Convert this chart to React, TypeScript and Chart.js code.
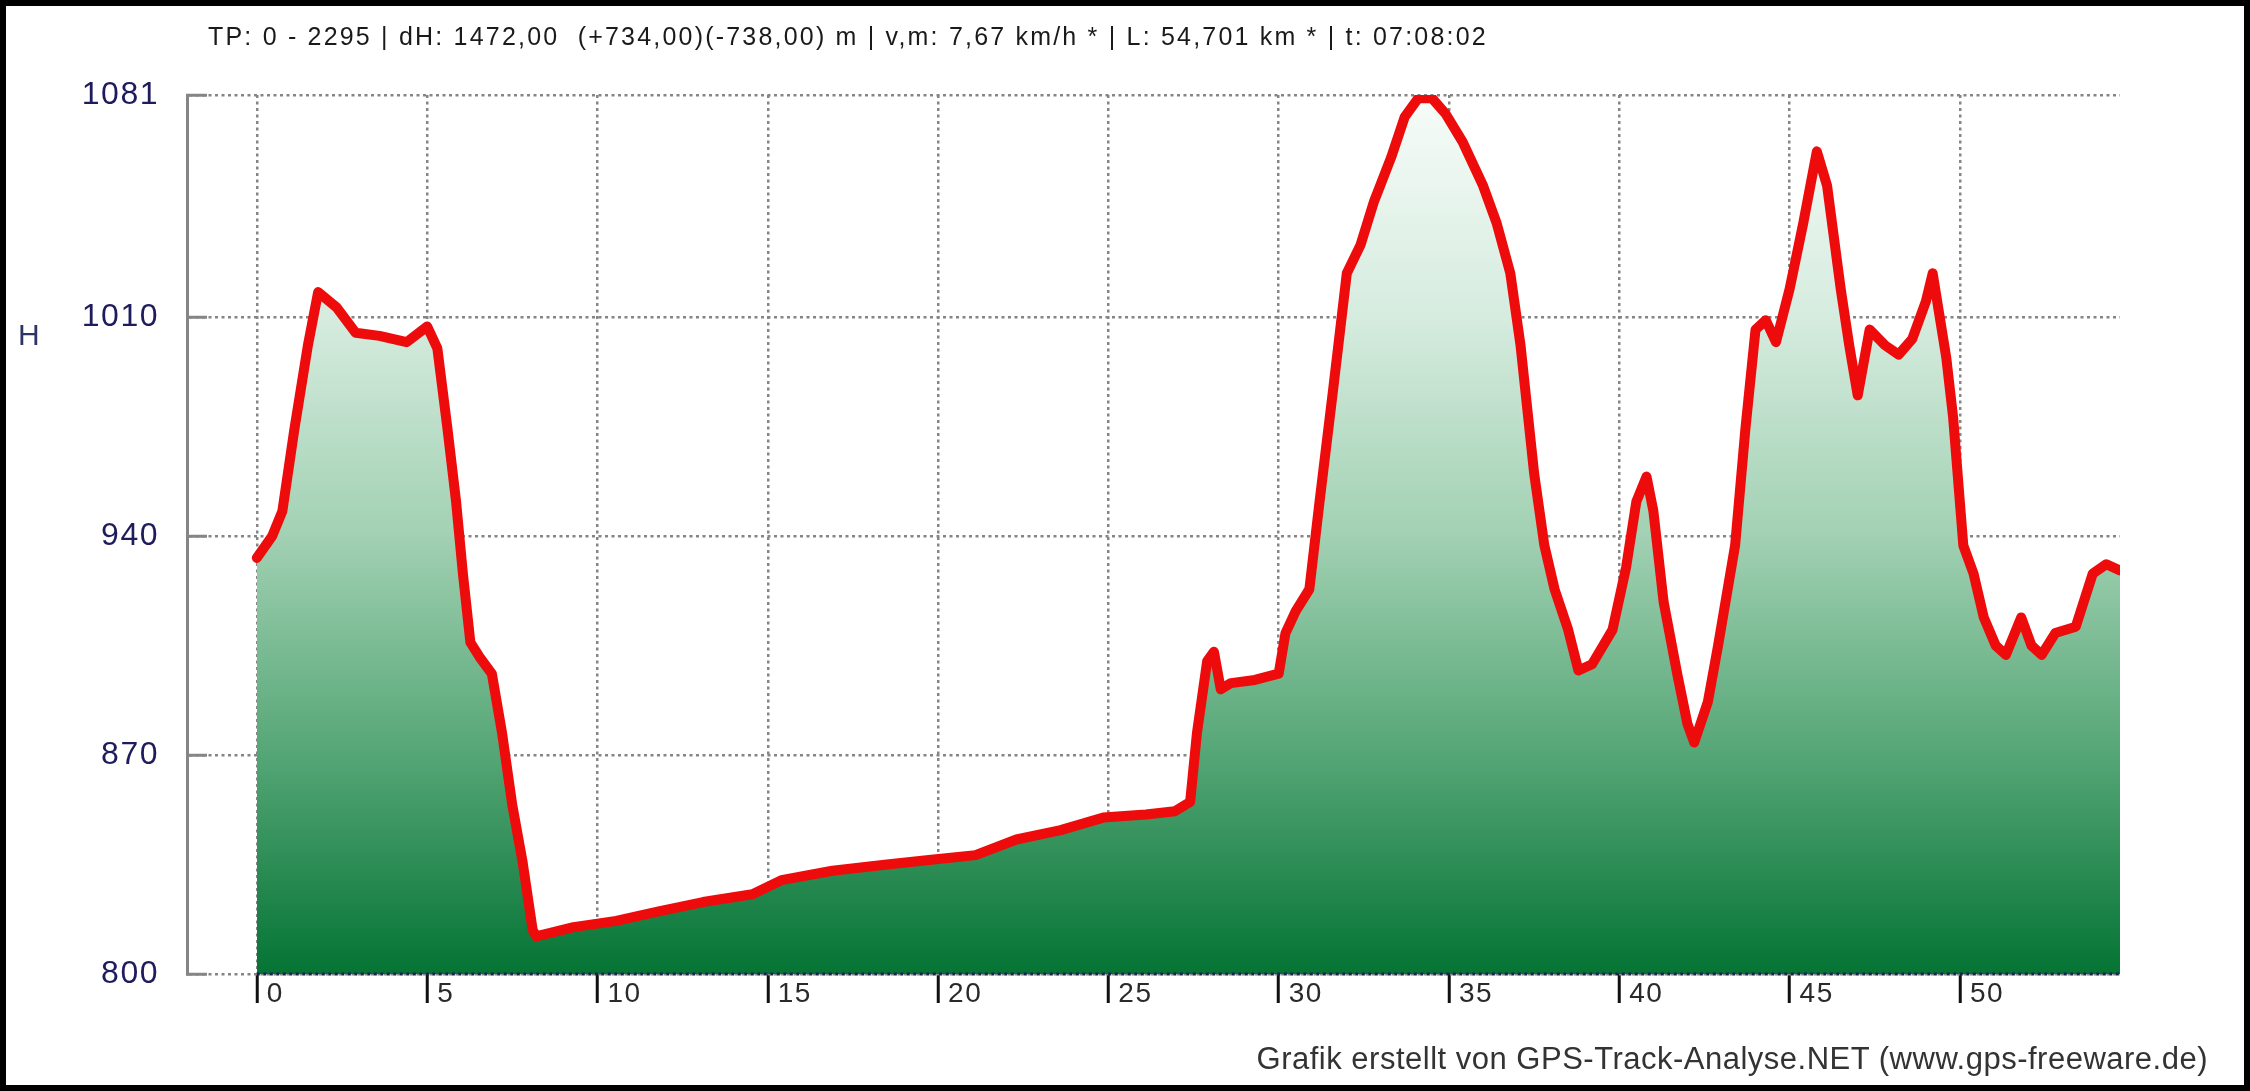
import React, { useEffect, useRef } from 'react';
import { Chart, registerables } from 'chart.js';

Chart.register(...registerables);

// ---- data (distance in km, elevation in m) ----
const distanceKm = [
  0.0, 0.45, 0.75, 1.1, 1.5, 1.8, 2.35, 2.9, 3.6, 4.4, 5.0, 5.3, 5.6, 5.85, 6.05, 6.27, 6.56, 6.9, 7.2, 7.5,
  7.8, 8.1, 8.2, 9.3, 10.55, 11.8, 13.1, 14.55, 15.4, 16.9, 18.5, 19.8, 21.1, 22.3, 23.6, 24.85, 26.1, 26.95, 27.4, 27.6,
  27.9, 28.1, 28.3, 28.6, 29.3, 30.0, 30.2, 30.5, 30.9, 31.2, 31.6, 32.0, 32.4, 32.8, 33.3, 33.7, 34.1, 34.5, 34.9, 35.4,
  36.0, 36.4, 36.8, 37.1, 37.5, 37.8, 38.1, 38.5, 38.8, 39.2, 39.8, 40.2, 40.5, 40.8, 41.0, 41.3, 41.7, 42.0, 42.2, 42.6,
  42.9, 43.4, 43.7, 44.0, 44.3, 44.6, 45.0, 45.4, 45.8, 46.1, 46.5, 46.75, 47.0, 47.35, 47.8, 48.2, 48.6, 49.0, 49.2, 49.6,
  49.8, 50.1, 50.4, 50.7, 51.05, 51.35, 51.8, 52.1, 52.4, 52.8, 53.4, 53.9, 54.3, 54.7,
];
const elevationM = [
  933, 940, 948, 974, 1001, 1018, 1013, 1005, 1004, 1002, 1007, 1000, 974, 951, 928, 906, 901, 896, 877, 854,
  836, 814, 812, 815, 817, 820, 823, 825.5, 830, 833, 835, 836.5, 838, 843, 846, 850, 851, 852, 855, 877,
  900, 903, 891, 893, 894, 896, 909, 916, 923, 951, 987, 1024, 1033, 1047, 1061, 1074, 1080, 1080, 1075, 1066,
  1052, 1040, 1024, 1001, 960, 937, 923, 910, 897, 899, 910, 930, 951, 959, 948, 919, 896, 880, 874, 887,
  905, 937, 974, 1006, 1009, 1002, 1019, 1040, 1063, 1052, 1019, 1001, 985, 1006, 1001, 998, 1003, 1015, 1024, 997,
  978, 937, 928, 914, 905, 902, 914, 905, 902, 909, 911, 928, 931, 929,
];
// base line of the filled profile (start/end km at the minimum height)
const baselineKm = [0, 54.7];
const baselineM = [800, 800];

const xTickValues = [0, 5, 10, 15, 20, 25, 30, 35, 40, 45, 50];
const xTickLabels = ['0', '5', '10', '15', '20', '25', '30', '35', '40', '45', '50'];
const yTickValues = [800, 870, 940, 1010, 1081];
const yTickLabels = ['800', '870', '940', '1010', '1081'];

const titleText =
  'TP: 0 - 2295 | dH: 1472,00  (+734,00)(-738,00) m | v,m: 7,67 km/h * | L: 54,701 km * | t: 07:08:02';
const yAxisLabel = 'H';
const creditText = 'Grafik erstellt von GPS-Track-Analyse.NET (www.gps-freeware.de)';

const FONT = "'Liberation Sans', Arial, sans-serif";

export default function App() {
  const canvasRef = useRef<HTMLCanvasElement | null>(null);

  useEffect(() => {
    const canvas = canvasRef.current;
    if (!canvas) return;
    const chart = new Chart(canvas, {
      type: 'line',
      data: {
        datasets: [
          {
            data: distanceKm.map((d, i) => ({ x: d, y: elevationM[i] })),
            borderColor: '#ee0b0b',
            borderWidth: 10,
            borderJoinStyle: 'round',
            borderCapStyle: 'round',
            pointRadius: 0,
            tension: 0,
            fill: 'start',
            order: 1,
            backgroundColor: (ctx: any) => {
              const c = ctx.chart;
              const a = c.chartArea;
              if (!a) return '#6fb88a';
              const g = c.ctx.createLinearGradient(0, a.top, 0, a.bottom);
              g.addColorStop(0, '#f7fcf9');
              g.addColorStop(0.25, '#d6ecdf');
              g.addColorStop(0.5, '#a2d1b3');
              g.addColorStop(0.75, '#55a676');
              g.addColorStop(1, '#047434');
              return g;
            },
          } as any,
          {
            data: baselineKm.map((d, i) => ({ x: d, y: baselineM[i] })),
            borderColor: '#14264e',
            borderWidth: 3,
            borderDash: [3, 3.5],
            pointRadius: 0,
            fill: false,
            order: 0,
            clip: 4,
          } as any,
        ],
      },
      options: {
        animation: false,
        responsive: false,
        devicePixelRatio: 1,
        layout: { padding: { left: 0, right: 130, top: 95, bottom: 0 } },
        plugins: {
          legend: { display: false },
          tooltip: { enabled: false },
          title: { display: false },
        },
        scales: {
          x: {
            type: 'linear',
            min: -2.05,
            max: 54.7,
            afterBuildTicks: (s: any) => {
              s.ticks = xTickValues.map((v) => ({ value: v }));
            },
            afterFit: (s: any) => {
              s.height = 117;
            },
            grid: {
              color: '#858585',
              lineWidth: 2.5,
              drawTicks: true,
              tickLength: 29,
              tickColor: '#111111',
              tickWidth: 3,
              tickBorderDash: [],
            },
            border: { display: false, dash: [3, 3.5] },
            ticks: {
              align: 'start',
              labelOffset: 10,
              padding: -26,
              color: '#2a2a2a',
              font: { family: FONT, size: 28 },
              maxRotation: 0,
              autoSkip: false,
              callback: (_v: any, i: number) => xTickLabels[i],
            },
          },
          y: {
            type: 'linear',
            min: 800,
            max: 1081,
            afterBuildTicks: (s: any) => {
              s.ticks = yTickValues.map((v) => ({ value: v }));
            },
            afterFit: (s: any) => {
              s.width = 187;
            },
            grid: {
              color: '#858585',
              lineWidth: 2.5,
              drawTicks: true,
              tickLength: -20,
              tickColor: '#858585',
              tickWidth: 3,
              tickBorderDash: [],
            },
            border: { display: true, color: '#858585', width: 3, dash: [3, 3.5] },
            ticks: {
              padding: 48,
              color: '#1e1c5c',
              font: { family: FONT, size: 32 },
              autoSkip: false,
              callback: (_v: any, i: number) => yTickLabels[i],
            },
          },
        },
      } as any,
      plugins: [
        {
          id: 'letterSpacing',
          beforeDraw(c: any) {
            c.ctx.letterSpacing = '1.5px';
          },
        },
      ],
    });
    return () => chart.destroy();
  }, []);

  return (
    <div
      style={{
        position: 'absolute',
        left: 0,
        top: 0,
        width: 2250,
        height: 1091,
        background: '#ffffff',
        overflow: 'hidden',
        fontFamily: FONT,
      }}
    >
      <canvas
        ref={canvasRef}
        width={2250}
        height={1091}
        style={{ position: 'absolute', left: 0, top: 0, width: 2250, height: 1091 }}
      />
      <div
        style={{
          position: 'absolute',
          left: 208,
          top: 24,
          fontSize: 25,
          lineHeight: 1,
          letterSpacing: '2.2px',
          whiteSpace: 'pre',
          color: '#1a1a1a',
        }}
      >
        {titleText}
      </div>
      <div
        style={{
          position: 'absolute',
          left: 18,
          top: 319.5,
          fontSize: 30,
          lineHeight: 1,
          color: '#2e3566',
        }}
      >
        {yAxisLabel}
      </div>
      <div
        style={{
          position: 'absolute',
          right: 42,
          top: 1043,
          fontSize: 31,
          lineHeight: 1,
          letterSpacing: '0.5px',
          whiteSpace: 'pre',
          color: '#333333',
          textAlign: 'right',
        }}
      >
        {creditText}
      </div>
      <div
        style={{
          position: 'absolute',
          left: 0,
          top: 0,
          width: 2250,
          height: 1091,
          boxSizing: 'border-box',
          border: '6px solid #000',
          pointerEvents: 'none',
        }}
      />
    </div>
  );
}
